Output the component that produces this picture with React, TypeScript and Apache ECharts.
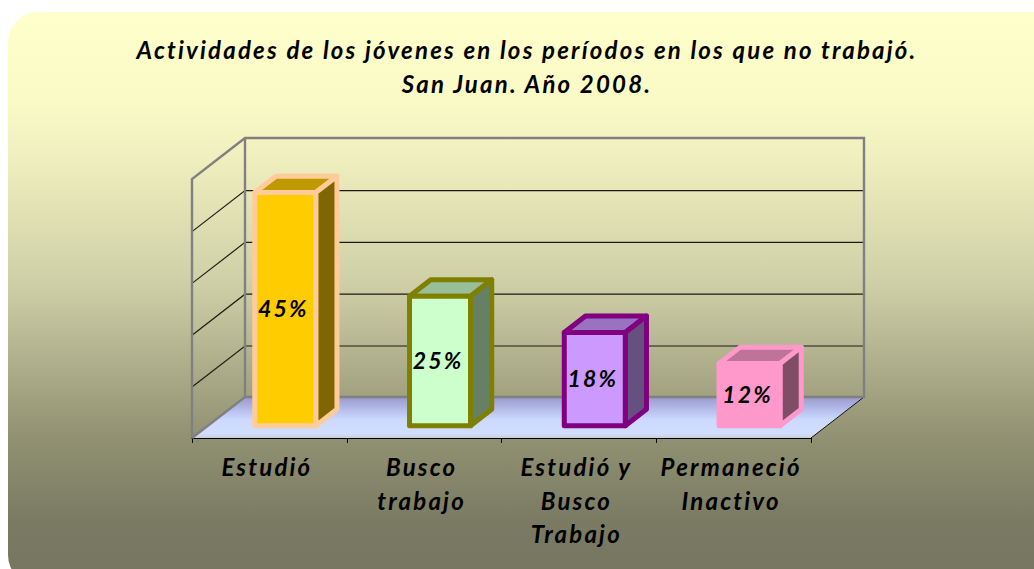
import React, { useEffect, useRef } from "react";
import * as echarts from "echarts";

const titleLines = [
  "Actividades de los jóvenes en los períodos en los que no trabajó.",
  "San Juan. Año 2008.",
];
const categories = ["Estudió", "Busco\ntrabajo", "Estudió y\nBusco\nTrabajo", "Permaneció\nInactivo"];
const values = [45, 25, 18, 12];
const valueLabels = ["45%", "25%", "18%", "12%"];
const gridTicks = [0, 10, 20, 30, 40, 50];
const frontColors = ["#FFCC00", "#CCFFCC", "#CC99FF", "#FF99CC"];
const sideColors = ["#806600", "#668066", "#665080", "#804D66"];
const topColors = ["#BF9900", "#99BF99", "#9973BF", "#BF7399"];
const borderColors = ["#FFCC99", "#808000", "#800080", "#FF99CC"];

const FONT = "Lato";
const DEPTH_X = 53;
const DEPTH_Y = 41;
const BAR_WIDTH = 61;
const GAP_DEPTH = 0.3;
const BAR_DEPTH = 0.4;

const wallItem = (params: any, api: any) => {
  const cs = params.coordSys;
  const left = cs.x;
  const right = cs.x + cs.width;
  const yOf = (v: number) => api.coord([0, v])[1];
  const base = yOf(0);
  const top = yOf(50);
  const children: any[] = [];
  children.push({
    type: "polygon",
    shape: { points: [[left, base], [left + DEPTH_X, base - DEPTH_Y], [right + DEPTH_X, base - DEPTH_Y], [right, base]] },
    style: {
      fill: new echarts.graphic.LinearGradient(0, 0, 0, 1, [
        { offset: 0, color: "#9999CC" },
        { offset: 0.55, color: "#CCD9FF" },
        { offset: 0.9, color: "#D2DEFF" },
        { offset: 1, color: "#C4CFD8" },
      ]),
    },
  });
  gridTicks.slice(1, -1).forEach((t) => {
    const y = yOf(t) + 0.8;
    children.push({
      type: "polyline",
      shape: { points: [[left, y], [left + DEPTH_X, y - DEPTH_Y], [right + DEPTH_X, y - DEPTH_Y]] },
      style: { fill: "none", stroke: "#1c1c14", lineWidth: 1.2 },
    });
  });
  children.push({
    type: "line",
    shape: { x1: right, y1: base, x2: right + DEPTH_X, y2: base - DEPTH_Y },
    style: { stroke: "#111", lineWidth: 1 },
  });
  children.push({
    type: "polyline",
    shape: {
      points: [
        [left, base], [left, top], [left + DEPTH_X, top - DEPTH_Y], [right + DEPTH_X, top - DEPTH_Y],
        [right + DEPTH_X, base - DEPTH_Y], [left + DEPTH_X, base - DEPTH_Y], [left, base],
      ],
    },
    style: { fill: "none", stroke: "#808080", lineWidth: 2.4 },
  });
  children.push({
    type: "line",
    shape: { x1: left + DEPTH_X, y1: top - DEPTH_Y, x2: left + DEPTH_X, y2: base - DEPTH_Y },
    style: { stroke: "#808080", lineWidth: 2.4 },
  });
  return { type: "group", children };
};

const barItem = (params: any, api: any) => {
  const i = params.dataIndex;
  const c = api.coord([i, api.value(1)]);
  const b = api.coord([i, 0]);
  const cx = c[0] + DEPTH_X * GAP_DEPTH;
  const x0 = cx - BAR_WIDTH / 2;
  const x1 = cx + BAR_WIDTH / 2;
  const yb = b[1] - DEPTH_Y * GAP_DEPTH;
  const yt = c[1] - DEPTH_Y * GAP_DEPTH;
  const dx = DEPTH_X * BAR_DEPTH;
  const dy = DEPTH_Y * BAR_DEPTH;
  const style = (fill: string) => ({ fill, stroke: borderColors[i], lineWidth: 5, lineJoin: "round" });
  return {
    type: "group",
    children: [
      { type: "polygon", shape: { points: [[x0, yt], [x0 + dx, yt - dy], [x1 + dx, yt - dy], [x1, yt]] }, style: style(topColors[i]) },
      { type: "polygon", shape: { points: [[x1, yt], [x1 + dx, yt - dy], [x1 + dx, yb - dy], [x1, yb]] }, style: style(sideColors[i]) },
      { type: "polygon", shape: { points: [[x0, yt], [x1, yt], [x1, yb], [x0, yb]] }, style: style(frontColors[i]) },
      {
        type: "text",
        x: cx - 2,
        y: (yt + yb) / 2 - 1,
        style: {
          text: valueLabels[i], fill: "#000", font: `italic bold 23px ${FONT}`,
          align: "center", verticalAlign: "middle",
        },
      },
    ],
  };
};

export default function App() {
  const ref = useRef<HTMLDivElement>(null);
  useEffect(() => {
    document.body.style.margin = "0";
    document.body.style.background = "#fff";
    const chart = echarts.init(ref.current!, null, { renderer: "svg" });
    chart.setOption({
      animation: false,
      backgroundColor: "transparent",
      graphic: [
        {
          type: "rect",
          z: -10,
          silent: true,
          shape: { x: 8, y: 12, width: 1060, height: 573, r: 30 },
          style: {
            fill: new echarts.graphic.LinearGradient(0, 0, 0, 1, [
              { offset: 0, color: "#FFFFCC" },
              { offset: 0.154, color: "#FAFAC6" },
              { offset: 0.223, color: "#F3F3C2" },
              { offset: 0.468, color: "#D0D0A8" },
              { offset: 0.747, color: "#909072" },
              { offset: 0.887, color: "#7B7B64" },
              { offset: 1, color: "#757560" },
            ]),
          },
        },
      ],
      title: {
        text: titleLines.join("\n"),
        left: 522,
        top: 27,
        textAlign: "center",
        textStyle: { fontFamily: FONT, fontSize: 24, fontWeight: "bold", fontStyle: "italic", color: "#000", lineHeight: 34 },
      },
      grid: { left: 192, top: 179, width: 619, height: 259 },
      xAxis: {
        type: "category",
        data: categories,
        axisLine: { lineStyle: { color: "#000", width: 1 } },
        axisTick: { show: true, length: 5, lineStyle: { color: "#000" } },
        axisLabel: {
          interval: 0, margin: 12, fontFamily: FONT, fontSize: 24, fontWeight: "bold", fontStyle: "italic",
          color: "#000", lineHeight: 33.5, padding: [0, 5, 0, 0],
        },
      },
      yAxis: { type: "value", min: 0, max: 50, interval: 10, show: false, splitLine: { show: false } },
      series: [
        { type: "custom", name: "walls", coordinateSystem: "cartesian2d", clip: false, z: 1, data: [[0, 0]], renderItem: wallItem, silent: true },
        {
          type: "custom", name: "bars", coordinateSystem: "cartesian2d", clip: false, z: 2,
          data: values.map((v, i) => [i, v]), encode: { x: 0, y: 1 }, renderItem: barItem,
        },
      ],
    });
    return () => chart.dispose();
  }, []);
  return <div ref={ref} style={{ width: 1034, height: 569, letterSpacing: "2.2px" }} />;
}
